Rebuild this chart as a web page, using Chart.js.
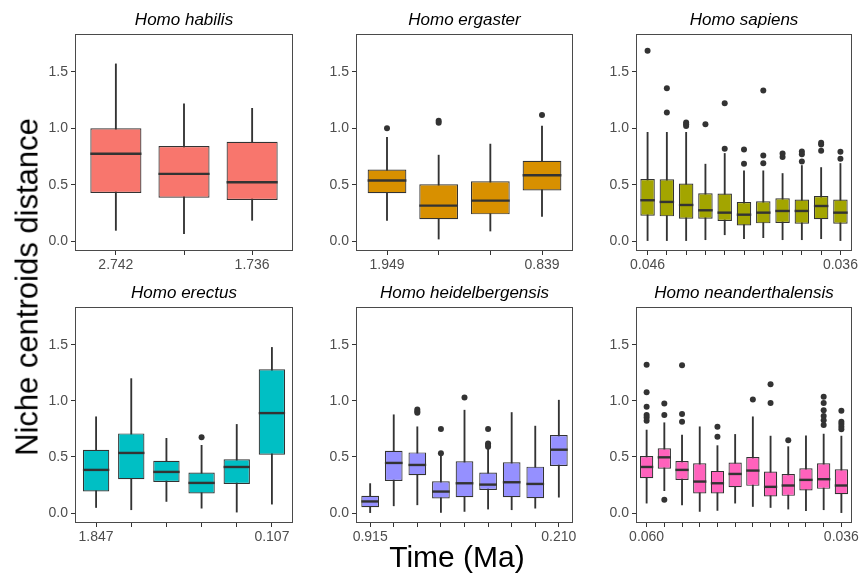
<!DOCTYPE html>
<html>
<head>
<meta charset="utf-8">
<script src="https://cdn.jsdelivr.net/npm/chart.js@4.4.1/dist/chart.umd.min.js"></script>
<style>
body { margin: 0; background: #fff; }
#wrap { position: relative; width: 860px; height: 576px; overflow: hidden; font-family: 'Liberation Sans', Arial, sans-serif; }
#wrap canvas { position: absolute; }
.ytitle { position: absolute; left: 27px; top: 287px; transform: translate(-50%, -50%) rotate(-90deg); font-size: 31px; line-height: 1; white-space: nowrap; color: #000; }
.xtitle { position: absolute; left: 457px; top: 557px; transform: translate(-50%, -50%); font-size: 30px; line-height: 1; white-space: nowrap; color: #000; }
</style>
</head>
<body>
<div id="wrap">
  <canvas id="habilis"></canvas>
  <canvas id="ergaster"></canvas>
  <canvas id="sapiens"></canvas>
  <canvas id="erectus"></canvas>
  <canvas id="heidelbergensis"></canvas>
  <canvas id="neanderthalensis"></canvas>
  <div class="ytitle">Niche centroids distance</div>
  <div class="xtitle">Time (Ma)</div>
</div>
<script>
// y axis ticks shared by every panel
var yTicks = [0, 0.5, 1.0, 1.5];

// Homo habilis
var habilisLabels = ['2.742', '', '1.736'];
var habilisLow = [0.095, 0.065, 0.184];
var habilisQ1 = [0.427, 0.385, 0.365];
var habilisMedian = [0.774, 0.596, 0.522];
var habilisQ3 = [1.0, 0.842, 0.88];
var habilisHigh = [1.571, 1.216, 1.177];
var habilisOutliers = [[], [], []];

// Homo ergaster
var ergasterLabels = ['1.949', '', '', '0.839'];
var ergasterLow = [0.184, 0.018, 0.089, 0.219];
var ergasterQ1 = [0.424, 0.193, 0.237, 0.448];
var ergasterMedian = [0.537, 0.314, 0.359, 0.584];
var ergasterQ3 = [0.634, 0.504, 0.531, 0.712];
var ergasterHigh = [0.919, 0.762, 0.86, 1.02];
var ergasterOutliers = [[1.0], [1.067, 1.05], [], [1.118]];

// Homo sapiens
var sapiensLabels = ['0.046', '', '', '', '', '', '', '', '', '', '0.036'];
var sapiensLow = [0, 0, 0, 0.012, 0.056, 0.021, 0.03, 0.012, 0.012, 0.021, 0];
var sapiensQ1 = [0.225, 0.219, 0.199, 0.199, 0.178, 0.139, 0.157, 0.16, 0.154, 0.193, 0.154];
var sapiensMedian = [0.362, 0.347, 0.32, 0.273, 0.252, 0.234, 0.252, 0.267, 0.267, 0.311, 0.252];
var sapiensQ3 = [0.551, 0.548, 0.51, 0.424, 0.421, 0.347, 0.353, 0.379, 0.368, 0.4, 0.368];
var sapiensHigh = [0.964, 0.964, 0.964, 0.682, 0.777, 0.623, 0.623, 0.599, 0.67, 0.652, 0.688];
var sapiensOutliers = [[1.687], [1.355, 1.141], [1.052, 1.035, 1.02], [1.035], [1.221, 0.818],
  [0.812, 0.685], [1.334, 0.759, 0.691], [0.777, 0.745], [0.795, 0.77, 0.705], [0.872, 0.857, 0.8], [0.792, 0.729]];

// Homo erectus
var erectusLabels = ['1.847', '', '', '', '', '0.107'];
var erectusLow = [0.05, 0.03, 0.104, 0.044, 0.009, 0.08];
var erectusQ1 = [0.192, 0.302, 0.278, 0.175, 0.26, 0.521];
var erectusMedian = [0.385, 0.536, 0.367, 0.269, 0.411, 0.891];
var erectusQ3 = [0.565, 0.71, 0.467, 0.361, 0.479, 1.281];
var erectusHigh = [0.858, 1.198, 0.666, 0.604, 0.79, 1.476];
var erectusOutliers = [[], [], [], [0.675], [], []];

// Homo heidelbergensis
var heidelLabels = ['0.915', '', '', '', '', '', '', '', '0.210'];
var heidelLow = [0.0, 0.065, 0.074, 0.006, 0.015, 0.036, 0.03, 0.044, 0.142];
var heidelQ1 = [0.053, 0.287, 0.337, 0.13, 0.142, 0.207, 0.142, 0.133, 0.42];
var heidelMedian = [0.104, 0.447, 0.429, 0.192, 0.266, 0.254, 0.275, 0.26, 0.565];
var heidelQ3 = [0.154, 0.556, 0.541, 0.284, 0.462, 0.361, 0.453, 0.414, 0.695];
var heidelHigh = [0.263, 0.876, 0.769, 0.515, 0.917, 0.577, 0.896, 0.775, 1.006];
var heidelOutliers = [[], [], [0.923, 0.905, 0.893], [0.749, 0.533], [1.03], [0.749, 0.621, 0.607, 0.592], [], [], []];

// Homo neanderthalensis
var neanderLabels = ['0.060', '', '', '', '', '', '', '', '', '', '', '0.036'];
var neanderLow = [0.089, 0.2, 0.074, 0.015, 0.024, 0.089, 0.059, 0.05, 0.036, 0.021, 0.03, 0];
var neanderQ1 = [0.311, 0.396, 0.296, 0.175, 0.175, 0.231, 0.243, 0.148, 0.154, 0.201, 0.216, 0.169];
var neanderMedian = [0.411, 0.497, 0.385, 0.281, 0.266, 0.349, 0.379, 0.234, 0.246, 0.296, 0.302, 0.246];
var neanderQ3 = [0.509, 0.577, 0.464, 0.444, 0.376, 0.45, 0.5, 0.37, 0.349, 0.4, 0.444, 0.391];
var neanderHigh = [0.74, 0.805, 0.695, 0.769, 0.601, 0.701, 0.858, 0.686, 0.592, 0.689, 0.704, 0.686];
var neanderOutliers = [[1.322, 1.077, 0.947, 0.873, 0.852, 0.822], [0.976, 0.873, 0.118], [1.317, 0.882, 0.814], [],
  [0.769, 0.68], [], [1.012], [1.148, 0.982], [0.648], [], [1.036, 0.982, 0.917, 0.864, 0.828, 0.784],
  [0.911, 0.814, 0.793, 0.769, 0.746]];

var FONT = "'Liberation Sans', Arial, sans-serif";
var INK = '#333333';
var Y_W = 50, X_H = 28, T_H = 32, PAD_R = 24;

function boxPlugin(medians) {
  return {
    id: 'boxMedians',
    afterDatasetsDraw: function (chart) {
      var ctx = chart.ctx, xs = chart.scales.x, ys = chart.scales.y;
      var half = xs.getPixelForValue(1.375) - xs.getPixelForValue(1);
      ctx.save();
      ctx.strokeStyle = INK;
      ctx.lineWidth = 2.4;
      medians.forEach(function (m, i) {
        var cx = xs.getPixelForValue(i + 1), py = ys.getPixelForValue(m);
        ctx.beginPath();
        ctx.moveTo(cx - half, py);
        ctx.lineTo(cx + half, py);
        ctx.stroke();
      });
      // panel border
      var a = chart.chartArea;
      ctx.strokeStyle = '#4a4a4a';
      ctx.lineWidth = 1;
      ctx.strokeRect(Math.floor(a.left) + 0.5, Math.floor(a.top) + 0.5, Math.round(a.right - a.left) - 1, Math.round(a.bottom - a.top) - 1);
      ctx.restore();
    }
  };
}

function makePanel(id, title, color, labels, low, q1, med, q3, high, outliers, left, top, w, h) {
  var cv = document.getElementById(id);
  cv.width = w + Y_W + PAD_R;
  cv.height = h + T_H + X_H;
  cv.style.left = (left - Y_W) + 'px';
  cv.style.top = (top - T_H) + 'px';
  var n = labels.length;
  var pts = [];
  outliers.forEach(function (arr, i) {
    arr.forEach(function (v) { pts.push({ x: i + 1, y: v }); });
  });
  new Chart(cv.getContext('2d'), {
    type: 'bar',
    data: {
      datasets: [{
        type: 'scatter',
        data: pts,
        pointRadius: 3,
        pointBackgroundColor: INK,
        pointBorderWidth: 0,
        order: 0
      }, {
        label: title,
        data: q1.map(function (v, i) { return { x: i + 1, y: [v, q3[i]] }; }),
        backgroundColor: color,
        borderColor: INK,
        borderWidth: 1.2,
        borderSkipped: false,
        grouped: false,
        barPercentage: 0.75,
        categoryPercentage: 1,
        order: 1
      }, {
        data: low.map(function (v, i) { return { x: i + 1, y: [v, high[i]] }; }),
        backgroundColor: INK,
        borderWidth: 0,
        grouped: false,
        barThickness: 1.2,
        order: 2
      }]
    },
    options: {
      responsive: false,
      animation: false,
      layout: { padding: { right: PAD_R } },
      plugins: {
        legend: { display: false },
        tooltip: { enabled: false },
        title: {
          display: true,
          fullSize: false,
          text: title,
          color: '#000',
          font: { family: FONT, size: 17, style: 'italic', weight: 'normal', lineHeight: '20px' },
          padding: { top: 8, bottom: 4 }
        }
      },
      scales: {
        x: {
          type: 'linear',
          min: 0.4,
          max: n + 0.6,
          offset: false,
          afterBuildTicks: function (s) { s.ticks = labels.map(function (_, i) { return { value: i + 1 }; }); },
          afterFit: function (s) { s.height = X_H; },
          grid: { drawOnChartArea: false, drawTicks: true, tickLength: 4, tickColor: INK, offset: false },
          border: { display: false },
          ticks: {
            autoSkip: false, maxRotation: 0, minRotation: 0, padding: 2,
            color: '#4d4d4d', font: { family: FONT, size: 14 },
            callback: function (v, i) { return labels[i]; }
          }
        },
        y: {
          min: -0.088,
          max: 1.836,
          afterBuildTicks: function (s) { s.ticks = yTicks.map(function (v) { return { value: v }; }); },
          afterFit: function (s) { s.width = Y_W; },
          grid: { drawOnChartArea: false, drawTicks: true, tickLength: 4, tickColor: INK },
          border: { display: false },
          ticks: {
            padding: 3, color: '#4d4d4d', font: { family: FONT, size: 14 },
            callback: function (v) { return v.toFixed(1); }
          }
        }
      }
    },
    plugins: [boxPlugin(med)]
  });
}

makePanel('habilis', 'Homo habilis', '#F8766D', habilisLabels, habilisLow, habilisQ1, habilisMedian, habilisQ3, habilisHigh, habilisOutliers, 75, 34, 218, 217);
makePanel('ergaster', 'Homo ergaster', '#D89000', ergasterLabels, ergasterLow, ergasterQ1, ergasterMedian, ergasterQ3, ergasterHigh, ergasterOutliers, 356, 34, 217, 217);
makePanel('sapiens', 'Homo sapiens', '#A3A500', sapiensLabels, sapiensLow, sapiensQ1, sapiensMedian, sapiensQ3, sapiensHigh, sapiensOutliers, 636, 34, 216, 217);
makePanel('erectus', 'Homo erectus', '#00BFC4', erectusLabels, erectusLow, erectusQ1, erectusMedian, erectusQ3, erectusHigh, erectusOutliers, 75, 307, 218, 216);
makePanel('heidelbergensis', 'Homo heidelbergensis', '#9590FF', heidelLabels, heidelLow, heidelQ1, heidelMedian, heidelQ3, heidelHigh, heidelOutliers, 356, 307, 217, 216);
makePanel('neanderthalensis', 'Homo neanderthalensis', '#FF62BC', neanderLabels, neanderLow, neanderQ1, neanderMedian, neanderQ3, neanderHigh, neanderOutliers, 636, 307, 216, 216);
</script>
</body>
</html>
